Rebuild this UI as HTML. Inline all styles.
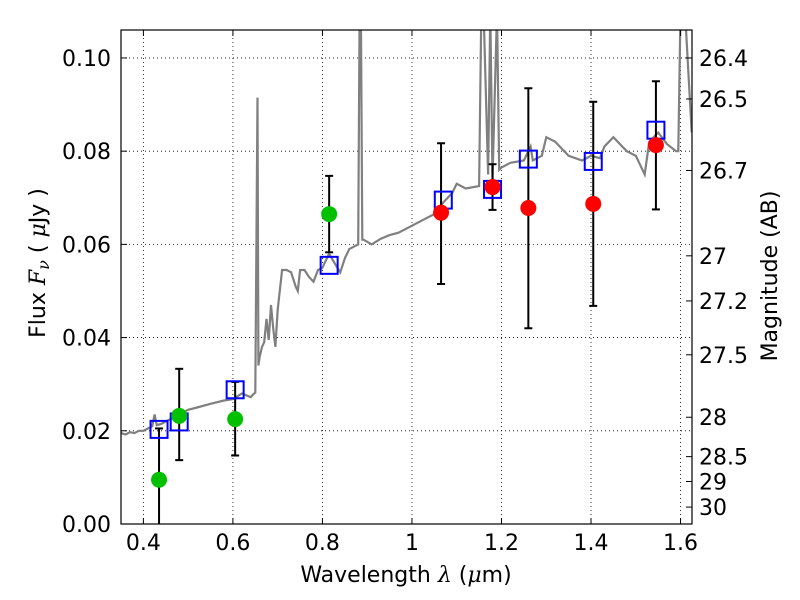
<!DOCTYPE html>
<html><head><meta charset="utf-8"><style>
html,body{margin:0;padding:0;background:#fff;}
svg{display:block;font-family:"DejaVu Sans","Liberation Sans",sans-serif;}
</style></head><body>
<svg id="chart" width="800" height="600" viewBox="0 0 800 600" xmlns="http://www.w3.org/2000/svg">
<g id="grid"></g>
<g id="spec"></g>
<g id="marks"></g>
<g id="axes"></g>
</svg>
<script>
const xTicks = [0.4,0.6,0.8,1.0,1.2,1.4,1.6];
const xTickLabels = ["0.4","0.6","0.8","1","1.2","1.4","1.6"];
const yTicks = [0,0.02,0.04,0.06,0.08,0.10];
const yTickLabels = ["0.00","0.02","0.04","0.06","0.08","0.10"];
const magTicks = [26.4,26.5,26.7,27,27.2,27.5,28,28.5,29,30];
const magTickLabels = ["26.4","26.5","26.7","27","27.2","27.5","28","28.5","29","30"];
const specWave = [0.35,0.36,0.37,0.38,0.39,0.40,0.41,0.42,0.425,0.43,0.44,0.45,0.47,0.50,0.52,0.55,0.58,0.60,0.62,0.64,0.645,0.65,0.655,0.657,0.66,0.665,0.67,0.675,0.68,0.685,0.69,0.695,0.70,0.71,0.72,0.73,0.74,0.745,0.75,0.76,0.77,0.78,0.79,0.80,0.815,0.83,0.84,0.85,0.86,0.87,0.88,0.883,0.886,0.889,0.892,0.91,0.93,0.95,0.97,1.00,1.03,1.05,1.07,1.09,1.10,1.12,1.15,1.155,1.16,1.17,1.175,1.18,1.19,1.195,1.20,1.22,1.25,1.265,1.27,1.29,1.30,1.32,1.35,1.38,1.40,1.42,1.43,1.45,1.48,1.50,1.51,1.52,1.53,1.55,1.57,1.59,1.595,1.60,1.61,1.625];
const specFlux = [0.0195,0.0192,0.0197,0.0195,0.0200,0.0200,0.0205,0.0210,0.0235,0.0212,0.0215,0.0220,0.0230,0.0245,0.0250,0.0258,0.0265,0.0268,0.0280,0.0272,0.0278,0.0282,0.0915,0.0340,0.0360,0.0380,0.0390,0.0440,0.0395,0.0470,0.0420,0.0380,0.0460,0.0545,0.0545,0.0540,0.0510,0.0500,0.0545,0.0545,0.0530,0.0520,0.0545,0.0550,0.0580,0.0555,0.0540,0.0570,0.0590,0.0595,0.0600,0.11,0.11,0.0610,0.0610,0.0600,0.0612,0.0620,0.0625,0.0640,0.0655,0.0665,0.0690,0.0710,0.0730,0.0720,0.0725,0.11,0.11,0.0750,0.11,0.0740,0.11,0.0760,0.0765,0.0775,0.0780,0.0810,0.0780,0.0790,0.0830,0.0820,0.0790,0.0780,0.0790,0.0785,0.0810,0.0830,0.0800,0.0790,0.0770,0.0750,0.0820,0.0840,0.0815,0.0800,0.0800,0.11,0.11,0.0840];
const greenWave = [0.435,0.48,0.605,0.815];
const greenFlux = [0.0095,0.0232,0.0225,0.0665];
const greenHi = [0.0205,0.0333,0.0305,0.0747];
const greenLo = [-0.01,0.0137,0.0147,0.0583];
const redWave = [1.065,1.18,1.26,1.405,1.545];
const redFlux = [0.0668,0.0723,0.0678,0.0687,0.0813];
const redHi = [0.0817,0.0772,0.0935,0.0906,0.0950];
const redLo = [0.0515,0.0674,0.0420,0.0468,0.0675];
const modelWave = [0.435,0.48,0.605,0.815,1.07,1.18,1.26,1.405,1.545];
const modelFlux = [0.0203,0.0219,0.0288,0.0555,0.0695,0.0718,0.0783,0.0778,0.0845];

const L=121,R=692,T=30,B=524, X0=0.35,X1=1.6256,Y0=0,Y1=0.106;
const NS="http://www.w3.org/2000/svg";
function sx(v){return L+(v-X0)/(X1-X0)*(R-L);}
function sy(v){return B-(v-Y0)/(Y1-Y0)*(B-T);}
function mk(tag,attrs,parent,text){const e=document.createElementNS(NS,tag);for(const k in attrs)e.setAttribute(k,attrs[k]);if(text!==undefined)e.textContent=text;parent.appendChild(e);return e;}
const grid=document.getElementById('grid'),spec=document.getElementById('spec'),marks=document.getElementById('marks'),axes=document.getElementById('axes');
xTicks.forEach(v=>{const l=mk('line',{x1:sx(v),x2:sx(v),y1:T,y2:B,stroke:'#000','stroke-width':0.8,'stroke-dasharray':'1,3'},grid);

});
yTicks.forEach(v=>{const l=mk('line',{x1:L,x2:R,y1:sy(v),y2:sy(v),stroke:'#000','stroke-width':0.8,'stroke-dasharray':'1,3'},grid);

});
const cp=mk('clipPath',{id:'clip'},spec);mk('rect',{x:L,y:T,width:R-L,height:B-T},cp);
const pts=specWave.map((w,i)=>sx(w).toFixed(1)+','+sy(specFlux[i]).toFixed(1)).join(' ');
const pl=mk('polyline',{points:pts,fill:'none',stroke:'#808080','stroke-width':2.2,'clip-path':'url(#clip)'},spec);


function errbar(w,hi,lo){const g=mk('g',{stroke:'#000','stroke-width':2,'clip-path':'url(#clip)'},marks);


const x=sx(w);mk('line',{x1:x,x2:x,y1:sy(hi),y2:sy(lo)},g);mk('line',{x1:x-4,x2:x+4,y1:sy(hi),y2:sy(hi)},g);mk('line',{x1:x-4,x2:x+4,y1:sy(lo),y2:sy(lo)},g);}
greenWave.forEach((w,i)=>errbar(w,greenHi[i],greenLo[i]));
redWave.forEach((w,i)=>errbar(w,redHi[i],redLo[i]));
modelWave.forEach((w,i)=>{const r=mk('rect',{x:sx(w)-8.5,y:sy(modelFlux[i])-8.5,width:17,height:17,fill:'none',stroke:'#0000ff','stroke-width':2},marks);

});
greenWave.forEach((w,i)=>{const c=mk('circle',{cx:sx(w),cy:sy(greenFlux[i]),r:8,fill:'#00c000'},marks);

});
redWave.forEach((w,i)=>{const c=mk('circle',{cx:sx(w),cy:sy(redFlux[i]),r:8,fill:'#ff0000'},marks);

});
const fr=mk('rect',{x:L,y:T,width:R-L,height:B-T,fill:'none',stroke:'#000','stroke-width':1.2},axes);


xTicks.forEach((v,i)=>{mk('line',{x1:sx(v),x2:sx(v),y1:B,y2:B-6,stroke:'#000'},axes);mk('line',{x1:sx(v),x2:sx(v),y1:T,y2:T+6,stroke:'#000'},axes);
const t=mk('text',{x:sx(v),y:B+26,'font-size':22,'text-anchor':'middle'},axes,xTickLabels[i]);

});
yTicks.forEach((v,i)=>{mk('line',{x1:L,x2:L+6,y1:sy(v),y2:sy(v),stroke:'#000'},axes);
const t=mk('text',{x:L-10,y:sy(v)+8,'font-size':22,'text-anchor':'end'},axes,yTickLabels[i]);

});
magTicks.forEach((m,i)=>{const f=Math.pow(10,-0.4*(m-23.9));const y=sy(f);mk('line',{x1:R,x2:R-6,y1:y,y2:y,stroke:'#000'},axes);
const t=mk('text',{x:R+7,y:y+8,'font-size':22},axes,magTickLabels[i]);

});
const xt=mk('text',{x:406,y:582,'font-size':22,'text-anchor':'middle'},axes);


mk('tspan',{},xt,'Wavelength  ');mk('tspan',{'font-family':'DejaVu Serif, serif','font-style':'italic'},xt,'λ');mk('tspan',{},xt,' (');mk('tspan',{'font-family':'DejaVu Serif, serif','font-style':'italic'},xt,'μ');mk('tspan',{},xt,'m)');
const yt=mk('text',{x:0,y:0,'font-size':22,'text-anchor':'middle',transform:'translate(45,263) rotate(-90)'},axes);


mk('tspan',{},yt,'Flux  ');mk('tspan',{'font-family':'DejaVu Serif, serif','font-style':'italic'},yt,'F');mk('tspan',{'font-family':'DejaVu Serif, serif','font-style':'italic','font-size':16,dy:4},yt,'ν');mk('tspan',{dy:-4},yt,'  ( ');mk('tspan',{'font-family':'DejaVu Serif, serif','font-style':'italic'},yt,'μ');mk('tspan',{},yt,'Jy )');
const rt=mk('text',{x:0,y:0,'font-size':22,'text-anchor':'middle',transform:'translate(777,276) rotate(-90)'},axes,'Magnitude (AB)');


</script>
</body></html>
